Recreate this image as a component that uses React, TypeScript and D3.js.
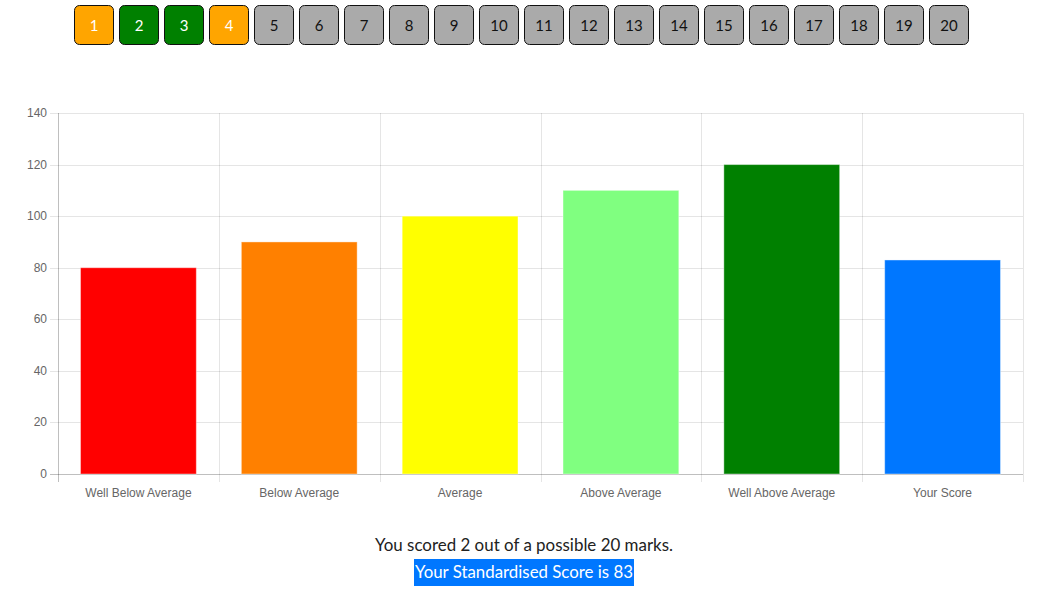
import React from "react";
import * as d3 from "d3";

const categories = ["Well Below Average", "Below Average", "Average", "Above Average", "Well Above Average", "Your Score"];
const values = [80, 90, 100, 110, 120, 83];
const barColors = ["#ff0000", "#ff8000", "#ffff00", "#80ff80", "#008000", "#0077ff"];
const yTicks = [0, 20, 40, 60, 80, 100, 120, 140];
const questionNumbers = d3.range(1, 21);
const questionStatus = ["orange", "green", "green", "orange", ...Array(16).fill("none")];
const scoreText = "You scored 2 out of a possible 20 marks.";
const standardText = "Your Standardised Score is 83";

export default function App() {
  const W = 1042, H = 603;
  const left = 58, right = 1023, top = 113, bottom = 474;
  const x = d3.scaleBand().domain(categories).range([left, right]).paddingInner(0).paddingOuter(0);
  const y = d3.scaleLinear().domain([0, 140]).range([bottom, top]);
  const bw = x.bandwidth() * 0.72;
  const tickFont = "Helvetica, Arial, 'Liberation Sans', sans-serif";
  const txtFont = "Lato, 'Open Sans', sans-serif";
  const boundaries = [...categories.map((c) => x(c)!), right];

  return (
    <svg width={W} height={H} style={{ position: "absolute", left: 0, top: 0, background: "#fff" }}>
      {questionNumbers.map((n, i) => {
        const st = questionStatus[i];
        const fill = st === "orange" ? "#ffa500" : st === "green" ? "#008000" : "#aaaaaa";
        const tc = st === "none" ? "#111" : "#fff";
        const bx = 74.5 + i * 45;
        return (
          <g key={n}>
            <rect x={bx} y={5.5} width={39} height={39} rx={5} fill={fill} stroke="#111" strokeWidth={1} />
            <text x={bx + 19.5} y={25} textAnchor="middle" dominantBaseline="central" fontFamily={txtFont} fontSize={15} fill={tc}>{n}</text>
          </g>
        );
      })}
      {yTicks.map((t) => (
        <g key={t}>
          <line x1={left - 8} x2={right} y1={Math.round(y(t)) + 0.5} y2={Math.round(y(t)) + 0.5} stroke={t === 0 ? "rgba(0,0,0,0.25)" : "rgba(0,0,0,0.1)"} />
          <text x={left - 11} y={y(t)} textAnchor="end" dominantBaseline="central" fontFamily={tickFont} fontSize={12} fill="#666">{t}</text>
        </g>
      ))}
      {boundaries.map((b, i) => (
        <line key={i} x1={Math.round(b) + 0.5} x2={Math.round(b) + 0.5} y1={top} y2={bottom + 8} stroke={i === 0 ? "rgba(0,0,0,0.25)" : "rgba(0,0,0,0.1)"} />
      ))}
      {categories.map((c, i) => {
        const cx = x(c)! + x.bandwidth() / 2;
        return (
          <g key={c}>
            <rect x={cx - bw / 2} y={y(values[i])} width={bw} height={bottom - y(values[i])} fill={barColors[i]} stroke="rgba(255,255,255,0.4)" strokeWidth={1} />
            <text x={cx} y={493} textAnchor="middle" dominantBaseline="central" fontFamily={tickFont} fontSize={12} fill="#666">{c}</text>
          </g>
        );
      })}
      <text x={524} y={544} textAnchor="middle" dominantBaseline="central" fontFamily={txtFont} fontSize={17.5} fill="#222" textLength={298} lengthAdjust="spacingAndGlyphs">{scoreText}</text>
      <rect x={414} y={559} width={220} height={27} fill="#0077ff" />
      <text x={524} y={571} textAnchor="middle" dominantBaseline="central" fontFamily={txtFont} fontSize={17.5} fill="#fff" textLength={218} lengthAdjust="spacingAndGlyphs">{standardText}</text>
    </svg>
  );
}
